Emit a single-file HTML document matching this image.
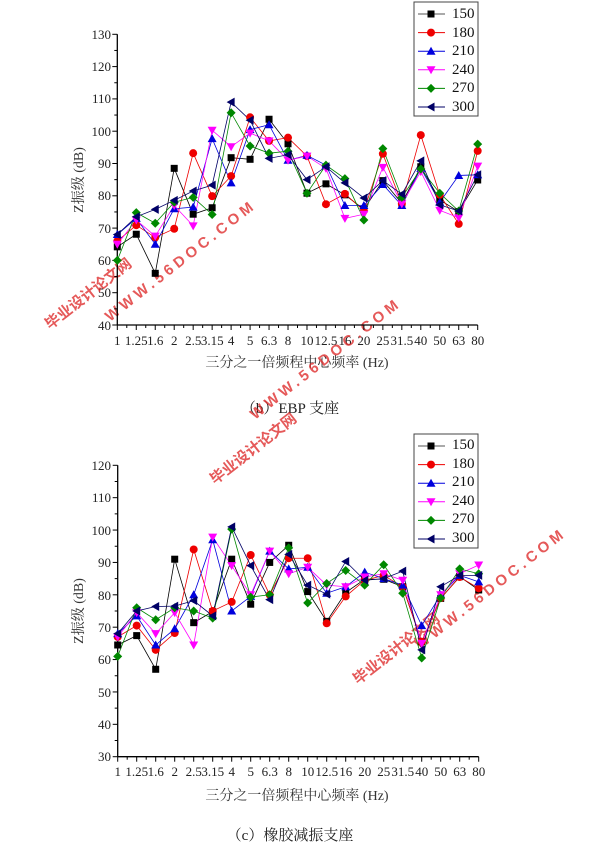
<!DOCTYPE html>
<html><head><meta charset="utf-8"><style>
body{margin:0;background:#fff;}
svg{display:block;font-family:"Liberation Serif","Noto Serif CJK SC",serif;}
</style></head><body>
<svg id="s" width="600" height="862" viewBox="0 0 600 862" xmlns="http://www.w3.org/2000/svg">
<g id="c1">
<g font-size="13" text-anchor="end" fill="#222">
<text x="111" y="39">130</text><text x="111" y="71">120</text><text x="111" y="103">110</text><text x="111" y="136">100</text><text x="111" y="168">90</text><text x="111" y="200">80</text><text x="111" y="233">70</text><text x="111" y="265">60</text><text x="111" y="297">50</text><text x="111" y="330">40</text>
</g>
<g font-size="13" text-anchor="middle" fill="#222">
<text x="117.3" y="345">1</text><text x="136.3" y="345">1.25</text><text x="155.2" y="345">1.6</text><text x="174.2" y="345">2</text><text x="193.2" y="345">2.5</text><text x="212.2" y="345">3.15</text><text x="231.1" y="345">4</text><text x="250.1" y="345">5</text><text x="269.1" y="345">6.3</text><text x="288.0" y="345">8</text><text x="307.0" y="345">10</text><text x="326.0" y="345">12.5</text><text x="345.0" y="345">16</text><text x="363.9" y="345">20</text><text x="382.9" y="345">25</text><text x="401.9" y="345">31.5</text><text x="420.8" y="345">40</text><text x="439.8" y="345">50</text><text x="458.8" y="345">63</text><text x="477.7" y="345">80</text>
</g>
<text x="297" y="367" font-size="14" text-anchor="middle" fill="#333">三分之一倍频程中心频率 (Hz)</text>
<text transform="translate(83,180) rotate(-90)" font-size="14" text-anchor="middle" fill="#333">Z振级 (dB)</text>
<text x="290" y="413" font-size="15" text-anchor="middle" fill="#222">（b）EBP 支座</text>
</g>
<g id="c2">
<g font-size="13" text-anchor="end" fill="#222">
<text x="111" y="470">120</text><text x="111" y="502">110</text><text x="111" y="535">100</text><text x="111" y="567">90</text><text x="111" y="600">80</text><text x="111" y="632">70</text><text x="111" y="664">60</text><text x="111" y="697">50</text><text x="111" y="729">40</text><text x="111" y="761">30</text>
</g>
<g font-size="13" text-anchor="middle" fill="#222">
<text x="117.7" y="776">1</text><text x="136.7" y="776">1.25</text><text x="155.7" y="776">1.6</text><text x="174.7" y="776">2</text><text x="193.7" y="776">2.5</text><text x="212.7" y="776">3.15</text><text x="231.7" y="776">4</text><text x="250.7" y="776">5</text><text x="269.7" y="776">6.3</text><text x="288.7" y="776">8</text><text x="307.7" y="776">10</text><text x="326.7" y="776">12.5</text><text x="345.7" y="776">16</text><text x="364.7" y="776">20</text><text x="383.7" y="776">25</text><text x="402.7" y="776">31.5</text><text x="421.7" y="776">40</text><text x="440.7" y="776">50</text><text x="459.7" y="776">63</text><text x="478.7" y="776">80</text>
</g>
<text x="297" y="800" font-size="14" text-anchor="middle" fill="#333">三分之一倍频程中心频率 (Hz)</text>
<text transform="translate(83,611) rotate(-90)" font-size="14" text-anchor="middle" fill="#333">Z振级 (dB)</text>
<text x="290" y="840" font-size="15" text-anchor="middle" fill="#222">（c）橡胶减振支座</text>
</g>
<g font-size="15" fill="#111">
<text x="452" y="18">150</text><text x="452" y="37">180</text><text x="452" y="55">210</text><text x="452" y="74">240</text><text x="452" y="92">270</text><text x="452" y="111">300</text>
<text x="452" y="449">150</text><text x="452" y="468">180</text><text x="452" y="486">210</text><text x="452" y="505">240</text><text x="452" y="523">270</text><text x="452" y="542">300</text>
</g>
<g fill="#d22" font-family="Liberation Sans,Noto Sans CJK SC,sans-serif" font-weight="bold" opacity="0.75">
<text transform="translate(50,330) rotate(-38)" font-size="15">毕业设计论文网</text>
<text transform="translate(110,322) rotate(-38)" font-size="15" letter-spacing="4">WWW.56DOC.COM</text>
<text transform="translate(215,485) rotate(-38)" font-size="15">毕业设计论文网</text>
<text transform="translate(255,420) rotate(-38)" font-size="15" letter-spacing="4">WWW.56DOC.COM</text>
<text transform="translate(358,685) rotate(-38)" font-size="15">毕业设计论文网</text>
<text transform="translate(420,650) rotate(-38)" font-size="15" letter-spacing="4">WWW.56DOC.COM</text>
</g>
<g id="dyn"></g>
</svg>
<script>
var NS="http://www.w3.org/2000/svg",g=document.getElementById("dyn");
function el(t,a){var e=document.createElementNS(NS,t);for(var k in a)e.setAttribute(k,a[k]);g.appendChild(e);return e;}
var cols=["#000","#e00","#00d","#f0f","#080","#006"];
function marker(i,x,y){var c=cols[i],s=4;
if(i==0)el("rect",{x:x-3.5,y:y-3.5,width:7,height:7,fill:c});
else if(i==1)el("circle",{cx:x,cy:y,r:4,fill:c});
else if(i==2)el("polygon",{points:(x)+","+(y-4.5)+" "+(x-4.5)+","+(y+3.5)+" "+(x+4.5)+","+(y+3.5),fill:c});
else if(i==3)el("polygon",{points:(x)+","+(y+4.5)+" "+(x-4.5)+","+(y-3.5)+" "+(x+4.5)+","+(y-3.5),fill:c});
else if(i==4)el("polygon",{points:x+","+(y-4.5)+" "+(x+4.5)+","+y+" "+x+","+(y+4.5)+" "+(x-4.5)+","+y,fill:c});
else el("polygon",{points:(x-4.5)+","+y+" "+(x+3.5)+","+(y-4.5)+" "+(x+3.5)+","+(y+4.5),fill:c});}
function chart(x0,x1,ytop,ybot,vmax,vmin,data,ly){
 var sx=(x1-x0)/19,sy=(ybot-ytop)/(vmax-vmin);
 // axes
 el("line",{x1:x0,y1:ytop,x2:x0,y2:ybot,stroke:"#000","stroke-width":1.3});
 el("line",{x1:x0,y1:ybot,x2:x1,y2:ybot,stroke:"#000","stroke-width":1.3});
 for(var v=vmin;v<=vmax;v+=5){var y=ybot-(v-vmin)*sy;el("line",{x1:x0-((v%10)?3:5),y1:y,x2:x0,y2:y,stroke:"#000"});}
 for(var i=0;i<20;i++){var x=x0+i*sx;el("line",{x1:x,y1:ybot,x2:x,y2:ybot+5,stroke:"#000"});if(i<19)el("line",{x1:x+sx/2,y1:ybot,x2:x+sx/2,y2:ybot+3,stroke:"#000"});}
 data.forEach(function(d,k){var p=d.map(function(v,i){return (x0+i*sx)+","+(ybot-(v-vmin)*sy);}).join(" ");
  el("polyline",{points:p,fill:"none",stroke:cols[k],"stroke-width":0.8});});
 data.forEach(function(d,k){d.forEach(function(v,i){marker(k,x0+i*sx,ybot-(v-vmin)*sy);});});
 el("rect",{x:414,y:ly,width:64,height:114,fill:"none",stroke:"#444","stroke-width":1});
 for(var k=0;k<6;k++){var y=ly+12+k*18.6;el("line",{x1:418,y1:y,x2:445,y2:y,stroke:cols[k]=="#000"?"#555":cols[k],"stroke-width":1});marker(k,431,y);}
}
chart(117.3,477.7,34.3,325,130,40,[
[64.2,68.1,56,88.5,74.3,76.3,91.8,91.3,103.7,96.1,80.8,83.7,80.3,75.8,84.7,77.7,89,78.7,75.1,84.9],
[66,70.9,67.1,69.8,93.2,79.9,86.1,104.3,97,98,92.3,77.4,80.6,75.4,93,77.5,98.8,80.3,71.3,93.9],
[68,73,65,76,76.5,97.7,84,100.5,102,91,92.5,89.5,77,77,83.5,77,88.5,78,86.3,86.5],
[65,72.5,67.5,77,70.7,100.3,95.2,99.4,97,91,92.3,88.5,73,74.3,88.8,77.5,87.5,75.5,73.2,89.2],
[60,74.8,71.5,78,79.5,74.2,105.7,95.4,93.2,93.8,80.8,89.5,85.3,72.5,94.6,79.5,88.3,80.8,75.3,96],
[68,73.5,75.8,78.6,81.5,83.3,109,103.4,91.6,92.7,85,89,84,79.3,84.7,80.5,90.8,77.2,75.3,86.5]],2);
chart(117.7,478.7,465.3,756.7,120,30,[
[64.5,67.4,57,91,71.4,74.8,91,77.1,90,95.3,81,71.8,80.7,84.8,84.8,82.5,65.5,78.9,85.6,81.5],
[67,70.5,63,68.2,94,75,77.8,92.3,80,91.3,91.3,71.2,79.5,84.5,86,82.5,65.5,79,85.5,82],
[68,73.5,64.5,69.5,80,97,75,79.5,93.5,88,88.5,80.5,82.5,87,85,83,70.5,80,86,84],
[67,74.5,68,74.5,64.5,97.8,89,80,93.5,86.5,88.5,83,82.5,85.5,86.5,84.5,65,80,86.5,89.2],
[61,76,72.3,76,75,72.8,100.3,79.3,80,94.5,77.5,83.5,87.5,83,89.3,80.5,60.5,79,88,86.5],
[68,75,76.4,76.5,78.2,73.5,101,89,78.5,92.5,83,80.2,90.3,84.5,85,87.3,63,82.5,86,86]],434);
</script>
</body></html>
